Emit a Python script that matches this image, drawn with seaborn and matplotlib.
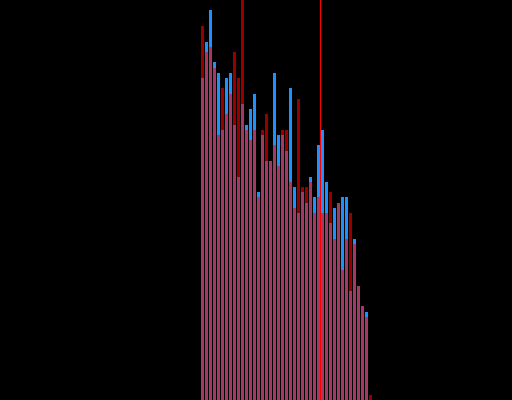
import numpy as np
import pandas as pd
import matplotlib
matplotlib.use("Agg")
import matplotlib.pyplot as plt
import seaborn as sns

# Contagens por classe
classes = list(range(43))
contagem_azul = [62, 69, 75, 65, 63, 52, 62, 63, 53, 43,
                 57, 53, 56, 59, 40, 51, 46, 46, 63, 51,
                 51, 48, 60, 41, 36, 40, 38, 43, 39, 49,
                 52, 42, 34, 37, 38, 39, 39, 21, 31, 22,
                 18, 17, 0]
contagem_vermelha = [72, 67, 68, 64, 51, 60, 55, 59, 67, 62,
                     77, 52, 50, 52, 39, 52, 55, 46, 49, 45,
                     52, 52, 42, 37, 58, 41, 41, 42, 36, 39,
                     36, 36, 40, 31, 38, 25, 31, 36, 30, 22,
                     18, 16, 1]
linha_ref = 29.5

COR_AZUL = "#1e90ff"
COR_VERMELHA = "#ff0000"

df = pd.DataFrame({"classe": classes,
                   "azul": contagem_azul,
                   "vermelha": contagem_vermelha})

fig = plt.figure(figsize=(5.12, 4.0), dpi=100, facecolor="black")
ax = fig.add_axes([0, 0, 1, 1])
ax.set_facecolor("black")

sns.barplot(data=df, x="classe", y="azul", color=COR_AZUL, saturation=1,
            width=0.8, linewidth=0, ax=ax)
sns.barplot(data=df, x="classe", y="vermelha", color=COR_VERMELHA, saturation=1,
            width=0.8, linewidth=0, alpha=0.6, ax=ax)
# linha de referência: faixa de 1 px (0.25 unidade = 1 px nesta escala)
ax.axvspan(linha_ref - 0.125, linha_ref + 0.125, color=COR_VERMELHA,
           lw=0, antialiased=False, zorder=5)

ax.set_xlim(-50.65, 77.35)
ax.set_ylim(0, max(contagem_vermelha))
ax.axis("off")

fig.savefig("out.png", dpi=100, facecolor="black")
plt.close(fig)
